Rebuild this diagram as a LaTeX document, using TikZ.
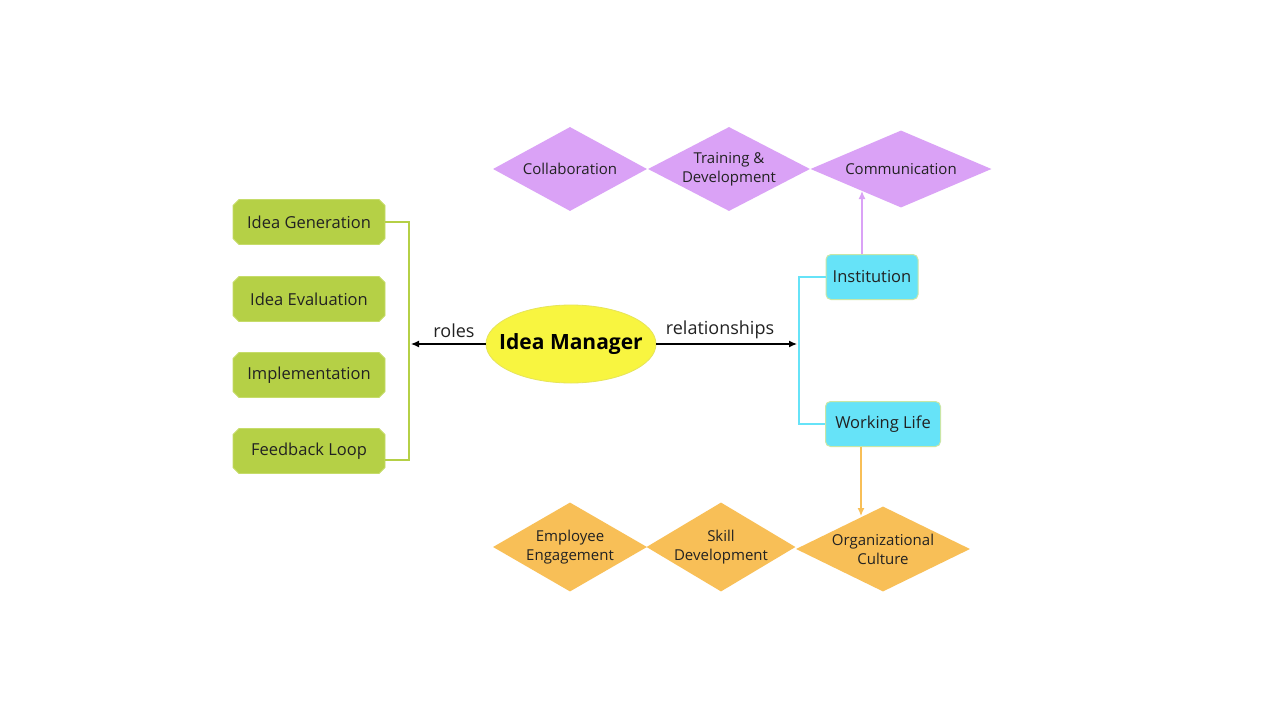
\documentclass[tikz,border=0pt]{standalone}
\usepackage{fontspec}
\setmainfont{Open Sans}
\usetikzlibrary{shapes.geometric,shapes.misc,arrows.meta}
\definecolor{grn}{HTML}{B5D046}
\definecolor{grnb}{HTML}{C6DC6A}
\definecolor{cyn}{HTML}{66E3F8}
\definecolor{cynb}{HTML}{C9E6A6}
\definecolor{ylw}{HTML}{F8F540}
\definecolor{ylwb}{HTML}{E6E45A}
\definecolor{prp}{HTML}{DAA2F6}
\definecolor{org}{HTML}{F8BF57}
\definecolor{txt}{HTML}{222222}
\tikzset{
  greenbox/.style={chamfered rectangle, chamfered rectangle xsep=3pt, chamfered rectangle ysep=3pt, fill=grn, draw=grnb, line width=0.8pt, minimum width=152pt, minimum height=45pt, inner sep=0pt, text=txt, font=\fontsize{16.5}{19}\selectfont},
  cyanbox/.style={rectangle, rounded corners=5pt, fill=cyn, draw=cynb, line width=1pt, minimum height=45pt, inner sep=0pt, text=txt, font=\fontsize{16.5}{19}\selectfont},
  dia/.style={diamond, inner sep=0pt, draw=none},
  dtext/.style={align=center, text=txt, font=\fontsize{15}{19}\selectfont, inner sep=0pt},
  lbl/.style={text=txt, font=\fontsize{18}{21}\selectfont, inner sep=0pt},
  conn/.style={line width=1.3pt, -{Latex[length=8pt,width=7pt]}},
}
\begin{document}
\begin{tikzpicture}[x=1pt,y=-1pt]
\useasboundingbox[fill=white] (0,0) rectangle (1280,720);
% central ellipse
\node[ellipse, fill=ylw, draw=ylwb, line width=0.8pt, minimum width=170pt, minimum height=78pt, inner sep=0pt] (im) at (571,344) {};
\node[text=black, font=\fontsize{21}{24}\selectfont\bfseries, inner sep=0pt] (imt) at (im) {Idea Manager};
% green boxes
\node[greenbox] (ig) at (309,222) {Idea Generation};
\node[greenbox] (ie) at (309,299) {Idea Evaluation};
\node[greenbox] (imp) at (309,375) {Implementation};
\node[greenbox] (fl) at (309,451) {Feedback Loop};
\coordinate (gbar) at (409,344);
\draw[grn, line width=2pt] (ig.east) -| (gbar) |- ([yshift=-9pt]fl.east);
% roles arrow
\draw[conn, black] (im.west) -- ([xshift=2pt]gbar);
\node[lbl] (roles) at (454,331) {roles};
% cyan boxes
\node[cyanbox, minimum width=92pt] (inst) at (872,277) {Institution};
\node[cyanbox, minimum width=115pt] (wl) at (883,424) {Working Life};
\coordinate (cbar) at (799,344);
\draw[cyn, line width=2pt] (inst.west) -| (cbar) |- (wl.west);
\draw[conn, black] (im.east) -- ([xshift=-2pt]cbar);
\node[lbl] (rel) at (720,330) {relationships};
% purple diamonds
\node[dia, fill=prp, minimum width=154pt, minimum height=84pt] (col) at (570,169) {};
\node[dtext] at (col) {Collaboration};
\node[dia, fill=prp, minimum width=162pt, minimum height=84pt] (trd) at (729,169) {};
\node[dtext] at (trd) {Training \&\\Development};
\node[dia, fill=prp, minimum width=181pt, minimum height=77pt] (com) at (901,169) {};
\node[dtext] at (com) {Communication};
\coordinate (comtip) at (862,191);
\draw[conn, prp] (inst.north -| comtip) -- (comtip);
% orange diamonds
\node[dia, fill=org, minimum width=154pt, minimum height=89pt] (ee) at (570,547) {};
\node[dtext] at (ee) {Employee\\Engagement};
\node[dia, fill=org, minimum width=149pt, minimum height=89pt] (sd) at (721,547) {};
\node[dtext] at (sd) {Skill\\Development};
\node[dia, fill=org, minimum width=174pt, minimum height=85pt] (oc) at (883,549) {};
\node[dtext] at (oc) {Organizational\\Culture};
\coordinate (octip) at (861,516);
\draw[conn, org] (wl.south -| octip) -- (octip);
\end{tikzpicture}
\end{document}
